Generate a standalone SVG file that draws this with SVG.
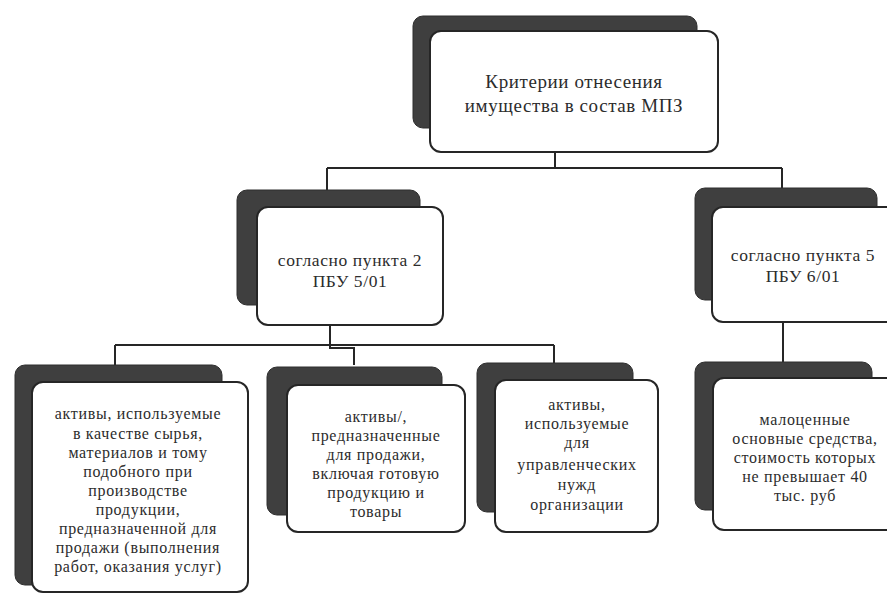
<svg xmlns="http://www.w3.org/2000/svg" width="887" height="594" viewBox="0 0 887 594">
<style>
.bg{fill:#ffffff}
.shadow{fill:#3f3f3f;stroke:#2e2e2e;stroke-width:1}
.box{fill:#ffffff;stroke:#262626;stroke-width:2}
.conn{fill:none;stroke:#262626;stroke-width:2}
text{font-family:'Liberation Serif','DejaVu Serif',serif;fill:#2c2c2c;text-anchor:middle}
.t1{font-size:19px;letter-spacing:0.6px}
.t2{font-size:17.5px;letter-spacing:0.6px}
.t3{font-size:16px;letter-spacing:0.7px}
</style>
<rect class="bg" x="0" y="0" width="887" height="594"/>
<g id="connectors">
<path class="conn" d="M555 152 V168 M327 168 H782 M327 168 V190 M782 168 V188"/>
<path class="conn" d="M330 325 V348 H354 V365 M115 345 H554 M115 345 V365 M554 345 V363"/>
<path class="conn" d="M783 322 V362"/>
</g>
<g id="node-root">
<rect class="shadow" x="413" y="16" width="284" height="112" rx="10"/>
<rect class="box" x="430" y="31" width="288" height="121" rx="11"/>
<text class="t1" x="574" y="88">Критерии отнесения</text>
<text class="t1" x="574" y="112">имущества в состав МПЗ</text>
</g>
<g id="node-pbu5">
<rect class="shadow" x="237" y="190" width="183" height="115" rx="10"/>
<rect class="box" x="257" y="207" width="186" height="118" rx="11"/>
<text class="t2" x="350" y="266">согласно пункта 2</text>
<text class="t2" x="350" y="287">ПБУ 5/01</text>
</g>
<g id="node-pbu6">
<rect class="shadow" x="695" y="188" width="182" height="112" rx="10"/>
<rect class="box" x="712" y="207" width="186" height="115" rx="11"/>
<text class="t2" x="803" y="261">согласно пункта 5</text>
<text class="t2" x="803" y="282">ПБУ 6/01</text>
</g>
<g id="node-raw">
<rect class="shadow" x="15" y="365" width="207" height="220" rx="10"/>
<rect class="box" x="32" y="382" width="216" height="210" rx="11"/>
<text class="t3" x="138" y="419">активы, используемые</text>
<text class="t3" x="138" y="439">в качестве сырья,</text>
<text class="t3" x="138" y="458">материалов и тому</text>
<text class="t3" x="138" y="477">подобного при</text>
<text class="t3" x="138" y="496">производстве</text>
<text class="t3" x="138" y="515">продукции,</text>
<text class="t3" x="138" y="534">предназначенной для</text>
<text class="t3" x="138" y="553">продажи (выполнения</text>
<text class="t3" x="138" y="572">работ, оказания услуг)</text>
</g>
<g id="node-sale">
<rect class="shadow" x="267" y="367" width="175" height="148" rx="10"/>
<rect class="box" x="287" y="385" width="178" height="147" rx="11"/>
<text class="t3" x="376" y="422">активы/,</text>
<text class="t3" x="376" y="441">предназначенные</text>
<text class="t3" x="376" y="460">для продажи,</text>
<text class="t3" x="376" y="479">включая готовую</text>
<text class="t3" x="376" y="498">продукцию и</text>
<text class="t3" x="376" y="517">товары</text>
</g>
<g id="node-mgmt">
<rect class="shadow" x="477" y="363" width="156" height="149" rx="10"/>
<rect class="box" x="495" y="380" width="163" height="152" rx="11"/>
<text class="t3" x="577" y="410">активы,</text>
<text class="t3" x="577" y="429">используемые</text>
<text class="t3" x="577" y="448">для</text>
<text class="t3" x="577" y="470">управленческих</text>
<text class="t3" x="577" y="490">нужд</text>
<text class="t3" x="577" y="510">организации</text>
</g>
<g id="node-lowvalue">
<rect class="shadow" x="695" y="362" width="177" height="148" rx="10"/>
<rect class="box" x="713" y="378" width="185" height="152" rx="11"/>
<text class="t3" x="805" y="425">малоценные</text>
<text class="t3" x="805" y="444">основные средства,</text>
<text class="t3" x="805" y="463">стоимость которых</text>
<text class="t3" x="805" y="482">не превышает 40</text>
<text class="t3" x="805" y="501">тыс. руб</text>
</g>
</svg>
